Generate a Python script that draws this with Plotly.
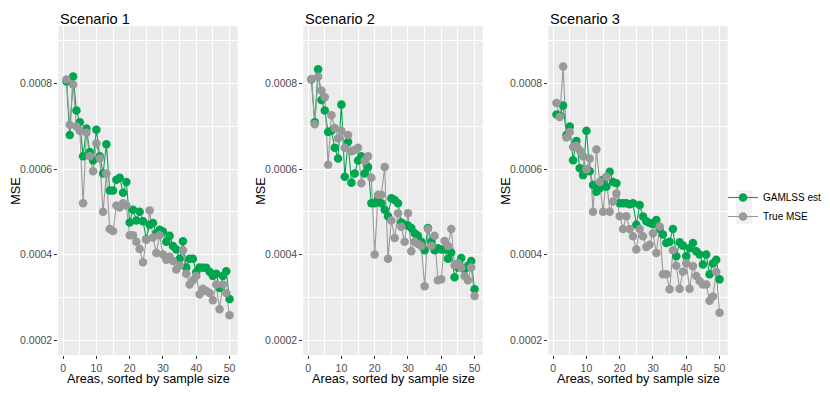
import plotly.graph_objects as go

# areas 1..50, sorted by sample size
areas = list(range(1, 51))

# Scenario 1
gamlss_s1 = [0.000805, 0.00068, 0.000817, 0.000737, 0.00071, 0.00063, 0.000695, 0.00064, 0.00062, 0.000692,
             0.00063, 0.00059, 0.000658, 0.00055, 0.00055, 0.000575, 0.00058, 0.000545, 0.00057, 0.000475,
             0.000505, 0.00048, 0.0005, 0.000478, 0.000436, 0.00047, 0.000474, 0.00045, 0.000458, 0.000454,
             0.00043, 0.000444, 0.00042, 0.000412, 0.00039, 0.000431, 0.00037, 0.00039, 0.00039, 0.000359,
             0.00037, 0.000369, 0.000369, 0.00036, 0.00035, 0.000355, 0.000322, 0.00035, 0.000361, 0.000296]
true_s1 = [0.00081, 0.000704, 0.000798, 0.0007, 0.00069, 0.00052, 0.000685, 0.00063, 0.000595, 0.00066,
           0.000625, 0.0005, 0.00059, 0.00046, 0.000455, 0.000515, 0.00051, 0.00052, 0.000515, 0.000445,
           0.000445, 0.00043, 0.000413, 0.000382, 0.000435, 0.000503, 0.00044, 0.000404, 0.000445, 0.0004,
           0.000388, 0.000395, 0.000385, 0.000365, 0.000375, 0.00041, 0.000355, 0.00033, 0.00034, 0.00035,
           0.000307, 0.00032, 0.000315, 0.00031, 0.000293, 0.00033, 0.000272, 0.00033, 0.00031, 0.000258]

# Scenario 2
gamlss_s2 = [0.00081, 0.00071, 0.000834, 0.000762, 0.000737, 0.000687, 0.00069, 0.00065, 0.000625, 0.000751,
             0.000582, 0.000664, 0.000568, 0.00059, 0.00062, 0.00063, 0.00059, 0.000605, 0.00052, 0.00052,
             0.00053, 0.00052, 0.000505, 0.00049, 0.000532, 0.000528, 0.00052, 0.000475, 0.00047, 0.000468,
             0.000462, 0.00045, 0.000444, 0.00043, 0.00041, 0.000462, 0.00043, 0.00041, 0.000415, 0.000412,
             0.000412, 0.00039, 0.000405, 0.000347, 0.00037, 0.000392, 0.000365, 0.000374, 0.000385, 0.000319]
true_s2 = [0.000811, 0.000705, 0.000816, 0.000784, 0.000768, 0.00061, 0.000726, 0.000696, 0.000672, 0.00069,
           0.00065, 0.00068, 0.000642, 0.000645, 0.00065, 0.000567, 0.00062, 0.00063, 0.00058, 0.0004,
           0.00054, 0.00054, 0.000605, 0.00039, 0.00048, 0.000439, 0.000497, 0.000465, 0.00043, 0.000497,
           0.000408, 0.00043, 0.000425, 0.00042, 0.000326, 0.00046, 0.00042, 0.000444, 0.00034, 0.000342,
           0.000432, 0.00042, 0.00046, 0.000375, 0.00038, 0.00037, 0.00035, 0.00034, 0.00037, 0.000303]

# Scenario 3
gamlss_s3 = [0.000728, 0.000725, 0.000749, 0.00068, 0.0007, 0.000621, 0.000666, 0.000602, 0.000586, 0.00069,
             0.000595, 0.000563, 0.000547, 0.000555, 0.000575, 0.000559, 0.000594, 0.00057, 0.000567, 0.00052,
             0.00052, 0.00052, 0.000518, 0.00052, 0.00047, 0.000516, 0.000489, 0.000478, 0.000474, 0.000471,
             0.000481, 0.00046, 0.000447, 0.000427, 0.00043, 0.00046, 0.000396, 0.000429, 0.000421, 0.000396,
             0.000415, 0.000427, 0.000408, 0.0004, 0.000377, 0.0004, 0.000354, 0.000379, 0.000388, 0.000342]
true_s3 = [0.000755, 0.000722, 0.00084, 0.000674, 0.000687, 0.000652, 0.000655, 0.000644, 0.00063, 0.0006,
           0.000625, 0.0005, 0.000646, 0.00057, 0.0005, 0.000582, 0.0005, 0.000524, 0.000543, 0.00049,
           0.00046, 0.00049, 0.00046, 0.000443, 0.000412, 0.00046, 0.000443, 0.000418, 0.000423, 0.00045,
           0.000404, 0.000466, 0.000354, 0.000354, 0.000319, 0.00041, 0.000374, 0.00032, 0.00036, 0.00038,
           0.00032, 0.000373, 0.00035, 0.000338, 0.00033, 0.00033, 0.000292, 0.000302, 0.00036, 0.000264]

scenarios = [("Scenario 1", gamlss_s1, true_s1),
             ("Scenario 2", gamlss_s2, true_s2),
             ("Scenario 3", gamlss_s3, true_s3)]

GREEN = "#00A550"
GREY = "#999999"
FONT = "Liberation Sans, Arial, sans-serif"

# the page body has an 8px margin, so the figure is drawn 8px in from the window edge
OFF = 8
W, H = 830 - OFF, 393 - OFF


def px_x(x):
    return (x - OFF) / W


def px_y(y):
    return 1 - (y - OFF) / H


panels_px = [(58.3, 237.7), (303.3, 482.7), (548.3, 727.7)]
top_px, bot_px = 26, 355

fig = go.Figure()
layout = {}
annotations = []

for k, (title, est, true) in enumerate(scenarios):
    sfx = "" if k == 0 else str(k + 1)
    # ggplot layering: all lines first, then all points
    for vals, col in ((est, GREEN), (true, GREY)):
        fig.add_trace(go.Scatter(x=areas, y=vals, mode="lines",
                                 line=dict(color=col, width=1.1),
                                 xaxis="x" + sfx, yaxis="y" + sfx,
                                 showlegend=False, hoverinfo="skip"))
    for name, vals, col in (("GAMLSS est.", est, GREEN), ("True MSE", true, GREY)):
        fig.add_trace(go.Scatter(x=areas, y=vals, mode="markers", name=name,
                                 marker=dict(color=col, size=8.5, line=dict(width=0)),
                                 xaxis="x" + sfx, yaxis="y" + sfx, showlegend=False))

    l, r = panels_px[k]
    layout["xaxis" + sfx] = dict(
        domain=[px_x(l), px_x(r)], range=[-1.45, 52.45], anchor="y" + sfx,
        tick0=0, dtick=10, ticks="outside", ticklen=3, tickcolor="#333333",
        tickfont=dict(size=10.5, color="#4D4D4D"),
        showgrid=True, gridcolor="white", gridwidth=1.1, zeroline=False, showline=False,
        minor=dict(tick0=0, dtick=5, showgrid=True, gridcolor="white", gridwidth=0.5),
    )
    layout["yaxis" + sfx] = dict(
        domain=[px_y(bot_px), px_y(top_px)], range=[0.000165, 0.000935], anchor="x" + sfx,
        tick0=0, dtick=0.0002, tickformat=".4f", ticks="outside", ticklen=3, tickcolor="#333333",
        tickfont=dict(size=10.5, color="#4D4D4D"),
        showgrid=True, gridcolor="white", gridwidth=1.1, zeroline=False, showline=False,
        minor=dict(tick0=0, dtick=0.0001, showgrid=True, gridcolor="white", gridwidth=0.5),
    )
    annotations.append(dict(text=title, x=px_x(l), y=px_y(9), xref="paper", yref="paper",
                            xanchor="left", yanchor="top", showarrow=False,
                            font=dict(size=14.6, color="black")))
    annotations.append(dict(text="Areas, sorted by sample size", x=px_x((l + r) / 2), y=px_y(379),
                            xref="paper", yref="paper", xanchor="center", yanchor="middle",
                            showarrow=False, font=dict(size=12.7, color="black")))
    annotations.append(dict(text="MSE", x=px_x(l - 43), y=px_y((top_px + bot_px) / 2),
                            xref="paper", yref="paper", xanchor="center", yanchor="middle",
                            textangle=-90, showarrow=False, font=dict(size=12.7, color="black")))

# legend entries (line + point keys)
for name, col in (("GAMLSS est.", GREEN), ("True MSE", GREY)):
    fig.add_trace(go.Scatter(x=[None], y=[None], mode="lines+markers", name=name,
                             line=dict(color=col, width=1.1),
                             marker=dict(color=col, size=8.5)))

fig.update_layout(
    width=W, height=H, margin=dict(l=0, r=0, t=0, b=0),
    paper_bgcolor="white", plot_bgcolor="#EBEBEB",
    font=dict(family=FONT, color="black"),
    annotations=annotations,
    showlegend=True,
    legend=dict(x=px_x(723), y=px_y(207), xanchor="left", yanchor="middle",
                bgcolor="rgba(0,0,0,0)", font=dict(size=10, color="black"),
                tracegroupgap=0, itemwidth=30),
    shapes=[dict(type="rect", xref="paper", yref="paper",
                 x0=px_x(736), x1=px_x(752), y0=px_y(224), y1=px_y(190),
                 fillcolor="#F2F2F2", line=dict(width=0), layer="below")],
    **layout,
)

fig.write_html("out.html")
